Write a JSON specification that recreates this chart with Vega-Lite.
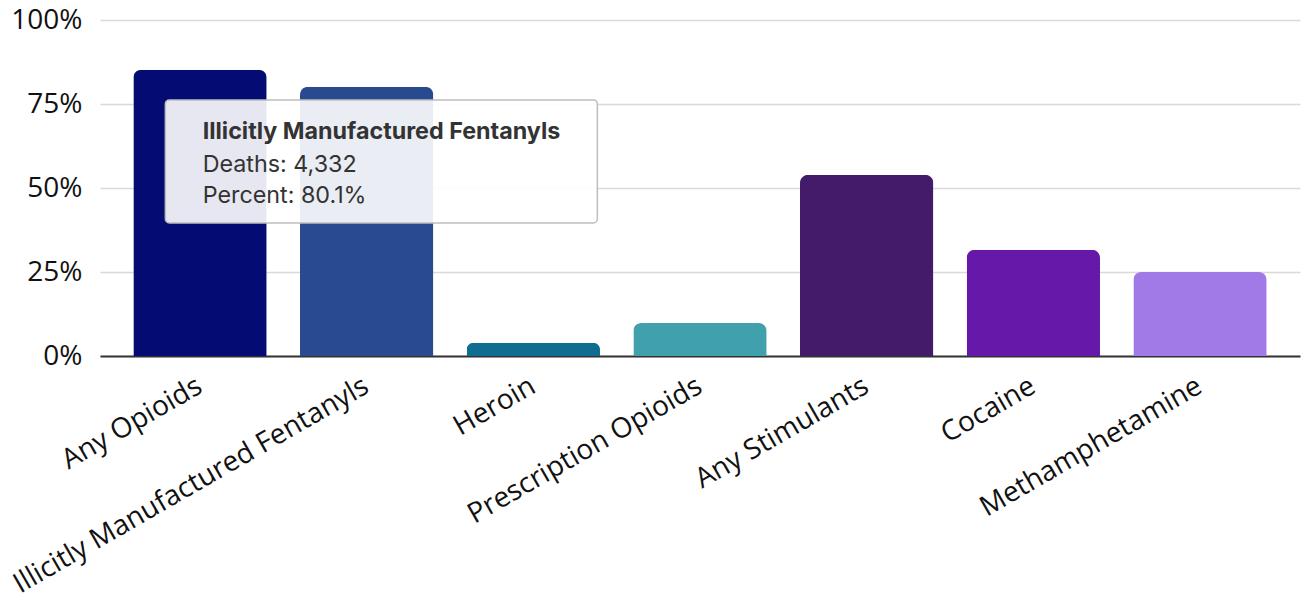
{
  "$schema": "https://vega.github.io/schema/vega-lite/v6.json",
  "width": 1200,
  "height": 336,
  "autosize": {"type": "none"},
  "padding": {"left": 100, "top": 20, "right": 4, "bottom": 245},
  "config": {
    "view": {"stroke": null},
    "font": "Open Sans"
  },
  "layer": [
    {
      "data": {"values": [
        {"drug": "Any Opioids", "pct": 0.852},
        {"drug": "Illicitly Manufactured Fentanyls", "pct": 0.801},
        {"drug": "Heroin", "pct": 0.039},
        {"drug": "Prescription Opioids", "pct": 0.098},
        {"drug": "Any Stimulants", "pct": 0.539},
        {"drug": "Cocaine", "pct": 0.316},
        {"drug": "Methamphetamine", "pct": 0.25}
      ]},
      "mark": {"type": "bar", "cornerRadiusTopLeft": 8, "cornerRadiusTopRight": 8},
      "encoding": {
        "x": {
          "field": "drug", "type": "nominal", "sort": null,
          "scale": {"paddingInner": 0.2, "paddingOuter": 0.2},
          "axis": {
            "title": null, "labelAngle": -30, "labelAlign": "right", "labelBaseline": "middle",
            "labelFontSize": 28, "labelColor": "#111", "labelFont": "Open Sans",
            "ticks": false, "labelPadding": 28, "domainColor": "#333", "domainWidth": 2,
            "labelLimit": 700
          }
        },
        "y": {
          "field": "pct", "type": "quantitative",
          "scale": {"domain": [0, 1]},
          "axis": {
            "title": null, "values": [0, 0.25, 0.5, 0.75, 1], "format": ".0%",
            "labelFontSize": 28, "labelColor": "#111", "labelFont": "Open Sans",
            "ticks": false, "domain": false, "labelPadding": 18,
            "gridColor": "#d9d9d9", "gridWidth": 1.5
          }
        },
        "color": {
          "field": "drug", "type": "nominal", "legend": null,
          "scale": {
            "domain": ["Any Opioids", "Illicitly Manufactured Fentanyls", "Heroin", "Prescription Opioids", "Any Stimulants", "Cocaine", "Methamphetamine"],
            "range": ["#040b72", "#2a4a90", "#0e6d91", "#40a0ac", "#441a6a", "#6619a8", "#a27ae8"]
          }
        }
      }
    },
    {
      "data": {"values": [{"name": "Illicitly Manufactured Fentanyls"}]},
      "mark": {"type": "rect", "fill": "#ffffff", "fillOpacity": 0.9, "stroke": "#bdbdbd", "strokeWidth": 1.5, "cornerRadius": 4},
      "encoding": {
        "x": {"datum": "Any Opioids", "type": "nominal", "bandPosition": 0.24},
        "x2": {"datum": "Heroin", "bandPosition": 0.98},
        "y": {"datum": 0.762, "type": "quantitative"},
        "y2": {"datum": 0.396}
      }
    },
    {
      "data": {"values": [{"line": "Illicitly Manufactured Fentanyls"}]},
      "mark": {"type": "text", "font": "Inter", "fontSize": 23.3, "fontWeight": "bold", "color": "#333", "align": "left", "baseline": "alphabetic"},
      "encoding": {
        "x": {"datum": "Any Opioids", "type": "nominal", "bandPosition": 0.52},
        "y": {"datum": 0.646, "type": "quantitative"},
        "text": {"field": "line"}
      }
    },
    {
      "data": {"values": [{"line": "Deaths: 4,332"}]},
      "mark": {"type": "text", "font": "Inter", "fontSize": 23.3, "color": "#333", "align": "left", "baseline": "alphabetic"},
      "encoding": {
        "x": {"datum": "Any Opioids", "type": "nominal", "bandPosition": 0.52},
        "y": {"datum": 0.548, "type": "quantitative"},
        "text": {"field": "line"}
      }
    },
    {
      "data": {"values": [{"line": "Percent: 80.1%"}]},
      "mark": {"type": "text", "font": "Inter", "fontSize": 23.3, "color": "#333", "align": "left", "baseline": "alphabetic"},
      "encoding": {
        "x": {"datum": "Any Opioids", "type": "nominal", "bandPosition": 0.52},
        "y": {"datum": 0.455, "type": "quantitative"},
        "text": {"field": "line"}
      }
    }
  ]
}
